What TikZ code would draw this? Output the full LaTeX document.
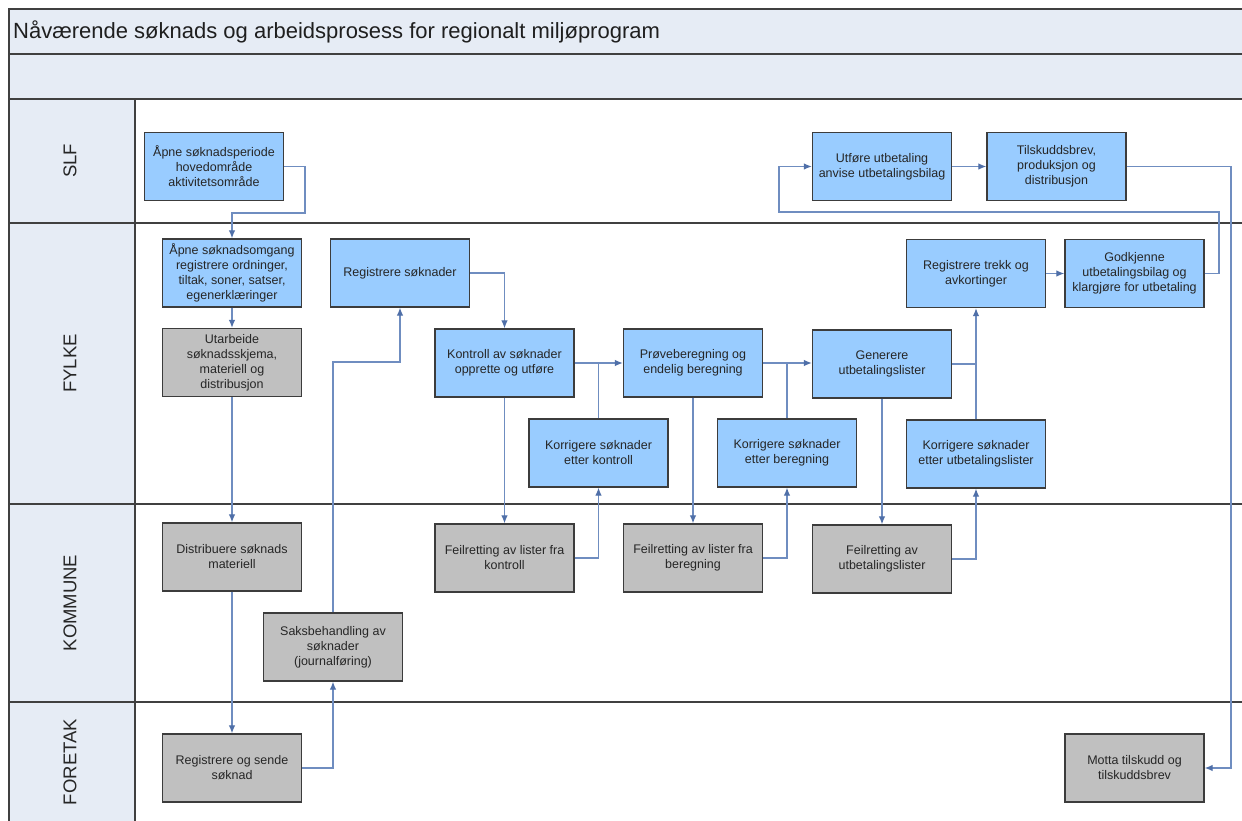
\documentclass[tikz,border=0pt]{standalone}
\usepackage{fontspec}
\setmainfont{Liberation Sans}
\usetikzlibrary{arrows.meta}
\definecolor{bandc}{HTML}{E6ECF5}
\definecolor{bluebox}{HTML}{99CCFF}
\definecolor{graybox}{HTML}{C0C0C0}
\definecolor{bordc}{HTML}{3C3C3C}
\definecolor{connc}{HTML}{6F8DC0}
\definecolor{tipc}{HTML}{4F6FA8}
\definecolor{lanec}{HTML}{404040}
\tikzset{
  box/.style={draw=bordc, line width=1.3pt, minimum width=139pt, minimum height=68pt,
    inner sep=2pt, align=center, text=black!85,
    font=\fontsize{12.5}{15}\selectfont},
  bbox/.style={box, fill=bluebox},
  gbox/.style={box, fill=graybox},
  conn/.style={draw=connc, line width=1.2pt},
  arr/.style={conn, -{Latex[length=8pt,width=6.5pt,color=tipc]}},
  laneline/.style={draw=lanec, line width=1.6pt},
  lanelabel/.style={rotate=90, font=\fontsize{18.5}{20}\selectfont, text=black!85}
}
\begin{document}
\begin{tikzpicture}[x=1pt,y=-1pt]
\useasboundingbox (0,0) rectangle (1242,821);
\fill[white] (0,0) rectangle (1242,821);
% bands
\fill[bandc] (9,9) rectangle (1250,99);
\fill[bandc] (9,99) rectangle (135,830);
\draw[laneline] (1250,9) -- (9,9) -- (9,830);
\draw[laneline] (9,54) -- (1250,54);
\draw[laneline] (9,99) -- (1250,99);
\draw[laneline] (9,223) -- (1250,223);
\draw[laneline] (9,504) -- (1250,504);
\draw[laneline] (9,702) -- (1250,702);
\draw[laneline] (135,99) -- (135,830);
\node[anchor=west, font=\fontsize{22}{24}\selectfont, text=black!88, inner sep=0pt] (title) at (13,31.5)
  {Nåværende søknads og arbeidsprosess for regionalt miljøprogram};
\node[lanelabel] (lslf) at (70,161) {SLF};
\node[lanelabel] (lfylke) at (70,363.5) {FYLKE};
\node[lanelabel] (lkom) at (70,603) {KOMMUNE};
\node[lanelabel] (lfor) at (70,762) {FORETAK};
% SLF
\node[bbox] (a1) at (214,166.5) {Åpne søknadsperiode\\hovedområde\\aktivitetsområde};
\node[bbox] (u1) at (882,166.5) {Utføre utbetaling\\anvise utbetalingsbilag};
\node[bbox] (t1) at (1056.5,166.5) {Tilskuddsbrev,\\produksjon og\\distribusjon};
% FYLKE
\node[bbox] (a2) at (232,273) {Åpne søknadsomgang\\registrere ordninger,\\tiltak, soner, satser,\\egenerklæringer};
\node[bbox] (rs) at (400,273) {Registrere søknader};
\node[gbox] (ut) at (232,362.5) {Utarbeide\\søknadsskjema,\\materiell og\\distribusjon};
\node[bbox] (ko) at (504.5,363) {Kontroll av søknader\\opprette og utføre};
\node[bbox] (pb) at (693,363) {Prøveberegning og\\endelig beregning};
\node[bbox] (ge) at (882,364) {Generere\\utbetalingslister};
\node[bbox] (rt) at (976,273.5) {Registrere trekk og\\avkortinger};
\node[bbox] (gk) at (1134.5,273.5) {Godkjenne\\utbetalingsbilag og\\klargjøre for utbetaling};
\node[bbox] (kk) at (598.5,453) {Korrigere søknader\\etter kontroll};
\node[bbox] (kb) at (787,453) {Korrigere søknader\\etter beregning};
\node[bbox] (ku) at (976,454) {Korrigere søknader\\etter utbetalingslister};
% KOMMUNE
\node[gbox] (di) at (232,557) {Distribuere søknads\\materiell};
\node[gbox] (fk) at (504.5,558) {Feilretting av lister fra\\kontroll};
\node[gbox] (fb) at (693,558) {Feilretting av lister fra\\beregning};
\node[gbox] (fu) at (882,559) {Feilretting av\\utbetalingslister};
\node[gbox] (sb) at (333,647) {Saksbehandling av\\søknader\\(journalføring)};
% FORETAK
\node[gbox] (rg) at (232,768) {Registrere og sende\\søknad};
\node[gbox] (mt) at (1134.5,768) {Motta tilskudd og\\tilskuddsbrev};
% connectors
\coordinate (j1) at (305,213);
\draw[arr] (a1.east) -| (j1) -| (a2.north);
\draw[arr] (a2.south) -- (ut.north);
\draw[arr] (ut.south) -- (di.north);
\draw[arr] (di.south) -- (rg.north);
\draw[arr] (rg.east) -| (sb.south);
\coordinate (j2) at (333,362);
\draw[arr] (sb.north) -- (j2) -| (rs.south);
\draw[arr] (rs.east) -| (ko.north);
\draw[arr] (ko.east) -- (pb.west);
\coordinate (j3) at (598.5,363);
\draw[conn] (kk.north) -- (j3);
\draw[arr] (ko.south) -- (fk.north);
\draw[arr] (fk.east) -| (kk.south);
\draw[arr] (pb.east) -- (ge.west |- pb.east);
\coordinate (j4) at (787,363);
\draw[conn] (kb.north) -- (j4);
\draw[arr] (pb.south) -- (fb.north);
\draw[arr] (fb.east) -| (kb.south);
\coordinate (j5) at (976,364);
\draw[conn] (ge.east) -- (j5);
\draw[arr] (ku.north) -- (rt.south);
\draw[arr] (ge.south) -- (fu.north);
\draw[arr] (fu.east) -| (ku.south);
\draw[arr] (rt.east) -- (gk.west);
\coordinate (j6) at (1219,212);
\coordinate (j7) at (779,212);
\draw[arr] (gk.east) -| (j6) -- (j7) |- (u1.west);
\draw[arr] (u1.east) -- (t1.west);
\coordinate (j8) at (1231,166.5);
\draw[arr] (t1.east) -- (j8) |- (mt.east);
\end{tikzpicture}
\end{document}
